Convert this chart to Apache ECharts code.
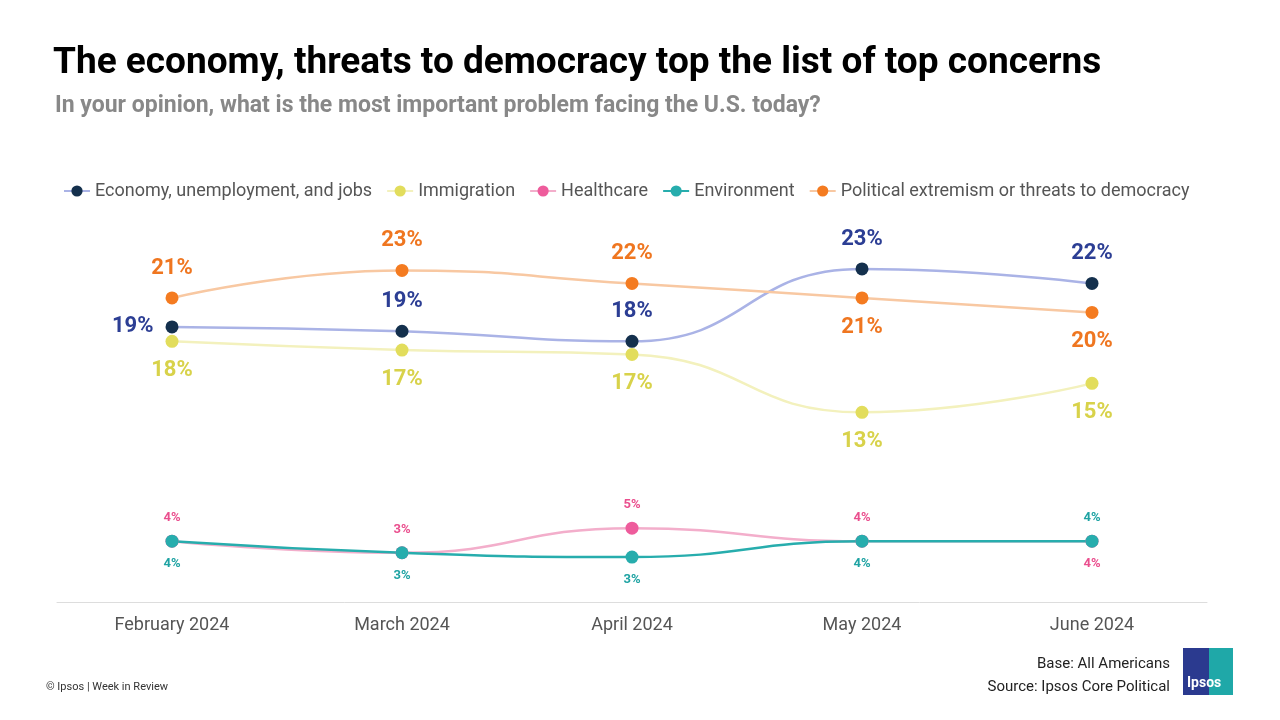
<!DOCTYPE html><html><head><meta charset="utf-8"><script src="https://cdn.jsdelivr.net/npm/echarts@6/dist/echarts.min.js"></script>
<style>body{margin:0}#c{width:1280px;height:720px}</style></head><body><div id="c"></div><script>
const categories=['February 2024','March 2024','April 2024','May 2024','June 2024'];
const economy=[19.0,18.7,18.0,23.0,22.0];
const immigration=[18.0,17.4,17.1,13.1,15.1];
const healthcare=[4.2,3.4,5.1,4.2,4.2];
const environment=[4.2,3.4,3.1,4.2,4.2];
const extremism=[21.0,22.9,22.0,21.0,20.0];
const F='Roboto, "Noto Sans", sans-serif';
function mk(name,data,line,mark,lab,pos,big){
 return {name,type:'line',smooth:0.5,data:data.map((v,i)=>({value:v,label:{position:pos[i]}})),symbol:'circle',symbolSize:13,
 lineStyle:{color:line,width:2.5},itemStyle:{color:mark},
 label:{show:true,formatter:p=>Math.round(p.value)+'%',color:lab,fontFamily:F,fontWeight:'bold',fontSize:big?22:13,distance:big?12:10}};
}
const ch=echarts.init(document.getElementById('c'));
ch.setOption({animation:false,
 title:[{text:'The economy, threats to democracy top the list of top concerns',left:48,top:40,textStyle:{fontFamily:F,fontWeight:'bold',fontSize:37,color:'#000'}},
 {text:'In your opinion, what is the most important problem facing the U.S. today?',left:50,top:90,textStyle:{fontFamily:F,fontWeight:'bold',fontSize:23,color:'#888'}}],
 legend:{left:58,top:177,itemGap:14,itemWidth:26,textStyle:{fontFamily:F,fontSize:18,color:'#555'},
  data:['Economy, unemployment, and jobs','Immigration','Healthcare','Environment','Political extremism or threats to democracy']},
 grid:{left:57,right:73,top:240,bottom:118},
 xAxis:{type:'category',data:categories,axisLine:{lineStyle:{color:'#ddd'}},axisTick:{show:false},axisLabel:{fontFamily:F,fontSize:18,color:'#555',margin:14}},
 yAxis:{type:'value',min:0,max:25,show:false},
 series:[
  mk('Economy, unemployment, and jobs',economy,'#aab3e6','#14304d','#2c3e94',['left','top','top','top','top'],true),
  mk('Immigration',immigration,'#f3f1bd','#e2dd5c','#d8d24a',['bottom','bottom','bottom','bottom','bottom'],true),
  mk('Healthcare',healthcare,'#f3aecb','#ee5c9c','#ea4f8e',['top','top','top','top','bottom'],false),
  mk('Environment',environment,'#27adad','#27adad','#1fa3a3',['bottom','bottom','bottom','bottom','top'],false),
  mk('Political extremism or threats to democracy',extremism,'#f8c8a2','#f47b20','#ef7620',['top','top','top','bottom','bottom'],true)
 ],
 graphic:[
  {type:'text',left:46,top:682,style:{text:'© Ipsos | Week in Review',font:'11px '+F,fill:'#333'}},
  {type:'text',right:110,top:657,style:{text:'Base: All Americans',font:'15px '+F,fill:'#222',align:'right'}},
  {type:'text',right:110,top:680,style:{text:'Source: Ipsos Core Political',font:'15px '+F,fill:'#222',align:'right'}},
  {type:'rect',left:1183,top:648,shape:{width:50,height:47},style:{fill:'#1fa8a8'}},
  {type:'rect',left:1183,top:648,shape:{width:26,height:47},style:{fill:'#2b3a8f'}},
  {type:'text',left:1187,top:676,style:{text:'Ipsos',font:'bold 14px '+F,fill:'#fff'}}
 ]});
</script></body></html>
